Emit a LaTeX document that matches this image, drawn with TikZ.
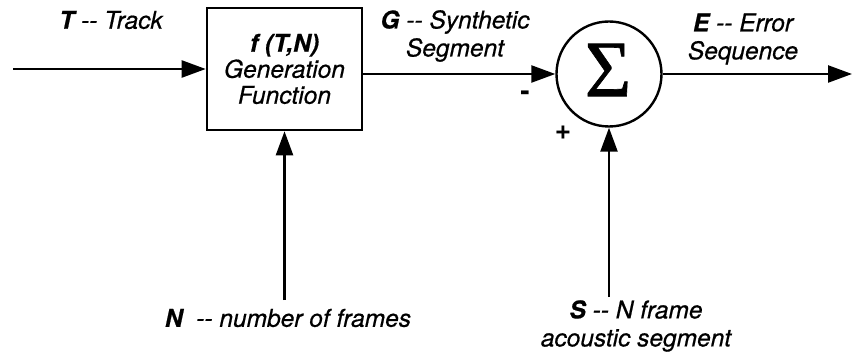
\documentclass[tikz,border=0pt]{standalone}
\usepackage{fontspec}
\setmainfont{TeX Gyre Heros}
\newfontfamily\sigmafont{Liberation Serif}[FakeBold=0.8]
\usetikzlibrary{arrows.meta}
\begin{document}
\begin{tikzpicture}[x=1pt,y=-1pt,
  wire/.style={line width=2.4pt,-{Triangle[length=24pt,width=17pt]}},
  lbl/.style={font=\fontsize{24.5}{28}\selectfont\itshape\addfontfeature{FakeBold=0.6},align=center,inner sep=0pt},
  sign/.style={font=\fontsize{28}{28}\selectfont\bfseries,inner sep=0pt},
  blockbox/.style={draw,line width=2.6pt,minimum width=155pt,minimum height=122pt,
    inner sep=0pt,align=center,font=\fontsize{24.5}{26}\selectfont\itshape\addfontfeature{FakeBold=0.6}},
  sumnode/.style={draw,circle,line width=2.4pt,minimum size=105pt,inner sep=0pt}]
\useasboundingbox (0,0) rectangle (853,363);

% generation block and summing junction
\node[blockbox] (gen) at (284.5,69) {\bfseries f (T,N)\\Generation\\Function};
\node[sumnode] (sum) at (609,74) {};
\node[font=\fontsize{80}{80}\sigmafont,inner sep=0pt] (sigma) at (608,70) {Σ};

% free ends of the connectors
\coordinate (tin) at (13,69);
\coordinate (nin) at (gen.south |- 0,300);
\coordinate (sin) at (sum.south |- 0,297);
\coordinate (eout) at (852,74);

% connectors
\draw[wire] (tin) -- (gen.west);
\draw[wire] (nin) -- (gen.south);
\draw[wire] (gen.east |- sum.west) -- (sum.west);
\draw[wire] (sin) -- (sum.south);
\draw[wire] (sum.east) -- (eout);

% signal labels
\node[lbl] (tlbl) at (111,20) {\textbf{T} -{}- Track};
\node[lbl] (glbl) at (455,36) {\textbf{G} -{}- Synthetic\\Segment};
\node[lbl] (elbl) at (743,39) {\textbf{E} -{}- Error\\Sequence};
\node[lbl] (nlbl) at (288,318) {\textbf{N}\ \ -{}- number of frames};
\node[lbl] (slbl) at (636,326) {\textbf{S} -{}- N frame\\acoustic segment};

% junction signs
\node[sign] (minus) at (525,96) {-};
\node[sign] (plus) at (563,133) {+};
\end{tikzpicture}
\end{document}
